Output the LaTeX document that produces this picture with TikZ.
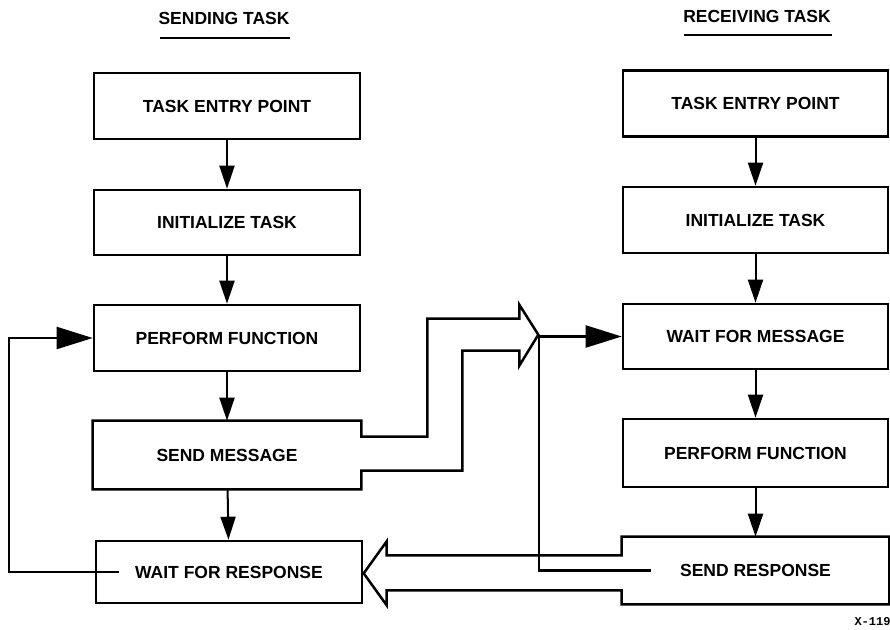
\documentclass[tikz,border=0pt]{standalone}
\usepackage{fontspec}
\setmainfont{Liberation Sans}
\setmonofont{Liberation Mono}
\usetikzlibrary{arrows.meta,calc}
\begin{document}
\begin{tikzpicture}[x=1pt,y=-1pt,
  lbl/.style={font=\fontsize{17.5}{20}\selectfont\bfseries},
  box/.style={lbl, draw, line width=2.6pt, minimum width=266pt, minimum height=66pt, inner sep=0pt},
  obox/.style={box, draw=none},
  outline/.style={line width=2.5pt, line join=miter},
  flow/.style={line width=2pt, -{Triangle[length=23pt,width=15pt]}},
  big/.style={line width=2.2pt, -{Triangle[length=36pt,width=22pt]}},
  uline/.style={line width=2.4pt}]
\useasboundingbox (0,0) rectangle (890,629);

% headers
\node[lbl] (hs) at (224,18) {SENDING TASK};
\node[lbl] (hr) at (757,16.5) {RECEIVING TASK};
\draw[uline] (160,38) -- (290,38);
\draw[uline] (684,35) -- (832,35);

% sending task
\node[box] (te1) at (227,106) {TASK ENTRY POINT};
\node[box, minimum height=65pt] (it1) at (227,222.5) {INITIALIZE TASK};
\node[box] (pf1) at (227,338) {PERFORM FUNCTION};
\node[obox] (sm) at (227,455) {SEND MESSAGE};
\node[box, minimum height=62pt] (wr) at (229,572) {WAIT FOR RESPONSE};

% receiving task
\node[box, minimum width=265pt] (te2) at (755.5,103.5) {TASK ENTRY POINT};
\node[box, minimum width=265pt] (it2) at (755.5,220) {INITIALIZE TASK};
\node[box, minimum width=265pt, minimum height=65pt] (wm) at (755.5,336.5) {WAIT FOR MESSAGE};
\node[box, minimum width=265pt, minimum height=68pt] (pf2) at (755.5,453) {PERFORM FUNCTION};
\node[obox, minimum width=265pt, minimum height=65pt] (sr) at (755.5,570.5) {SEND RESPONSE};

% vertical flow
\draw[flow] (te1) -- (it1);
\draw[flow] (it1) -- (pf1);
\draw[flow] (pf1) -- (sm);
\draw[flow] (sm) -- (wr);
\draw[flow] (te2) -- (it2);
\draw[flow] (it2) -- (wm);
\draw[flow] (wm) -- (pf2);
\draw[flow] (pf2) -- (sr);

% send message box merged with hollow arrow
\draw[outline] (sm.north west) -- (sm.north east) -- ++(0,16) -- ++(66,0)
  -- ++(0,-118) -- ++(92,0) -- ++(0,-14) -- ++(19,30) -- ++(-19,31)
  -- ++(0,-15) -- ++(-57,0) -- ++(0,120) -- ++(-101,0)
  -- (sm.south east) -- (sm.south west) -- cycle;

% send response box merged with hollow arrow
\draw[outline] (sr.north west) -- (sr.north east) -- (sr.south east)
  -- (sr.south west) -- ++(0,-14) -- ++(-235,0) -- ++(0,15)
  -- ++(-23,-32) -- ++(23,-32) -- ++(0,14) -- ++(235,0) -- cycle;

% loops
\draw[big] ([xshift=24pt]wr.west) -- ++(-110,0) |- (pf1.west);
\draw[big] ([xshift=29pt]sr.west) -- ++(-112,0) |- (wm.west);

\node[anchor=west, font=\fontsize{12}{13}\selectfont\bfseries\ttfamily] (fig) at (851,622) {X-119};
\end{tikzpicture}
\end{document}
